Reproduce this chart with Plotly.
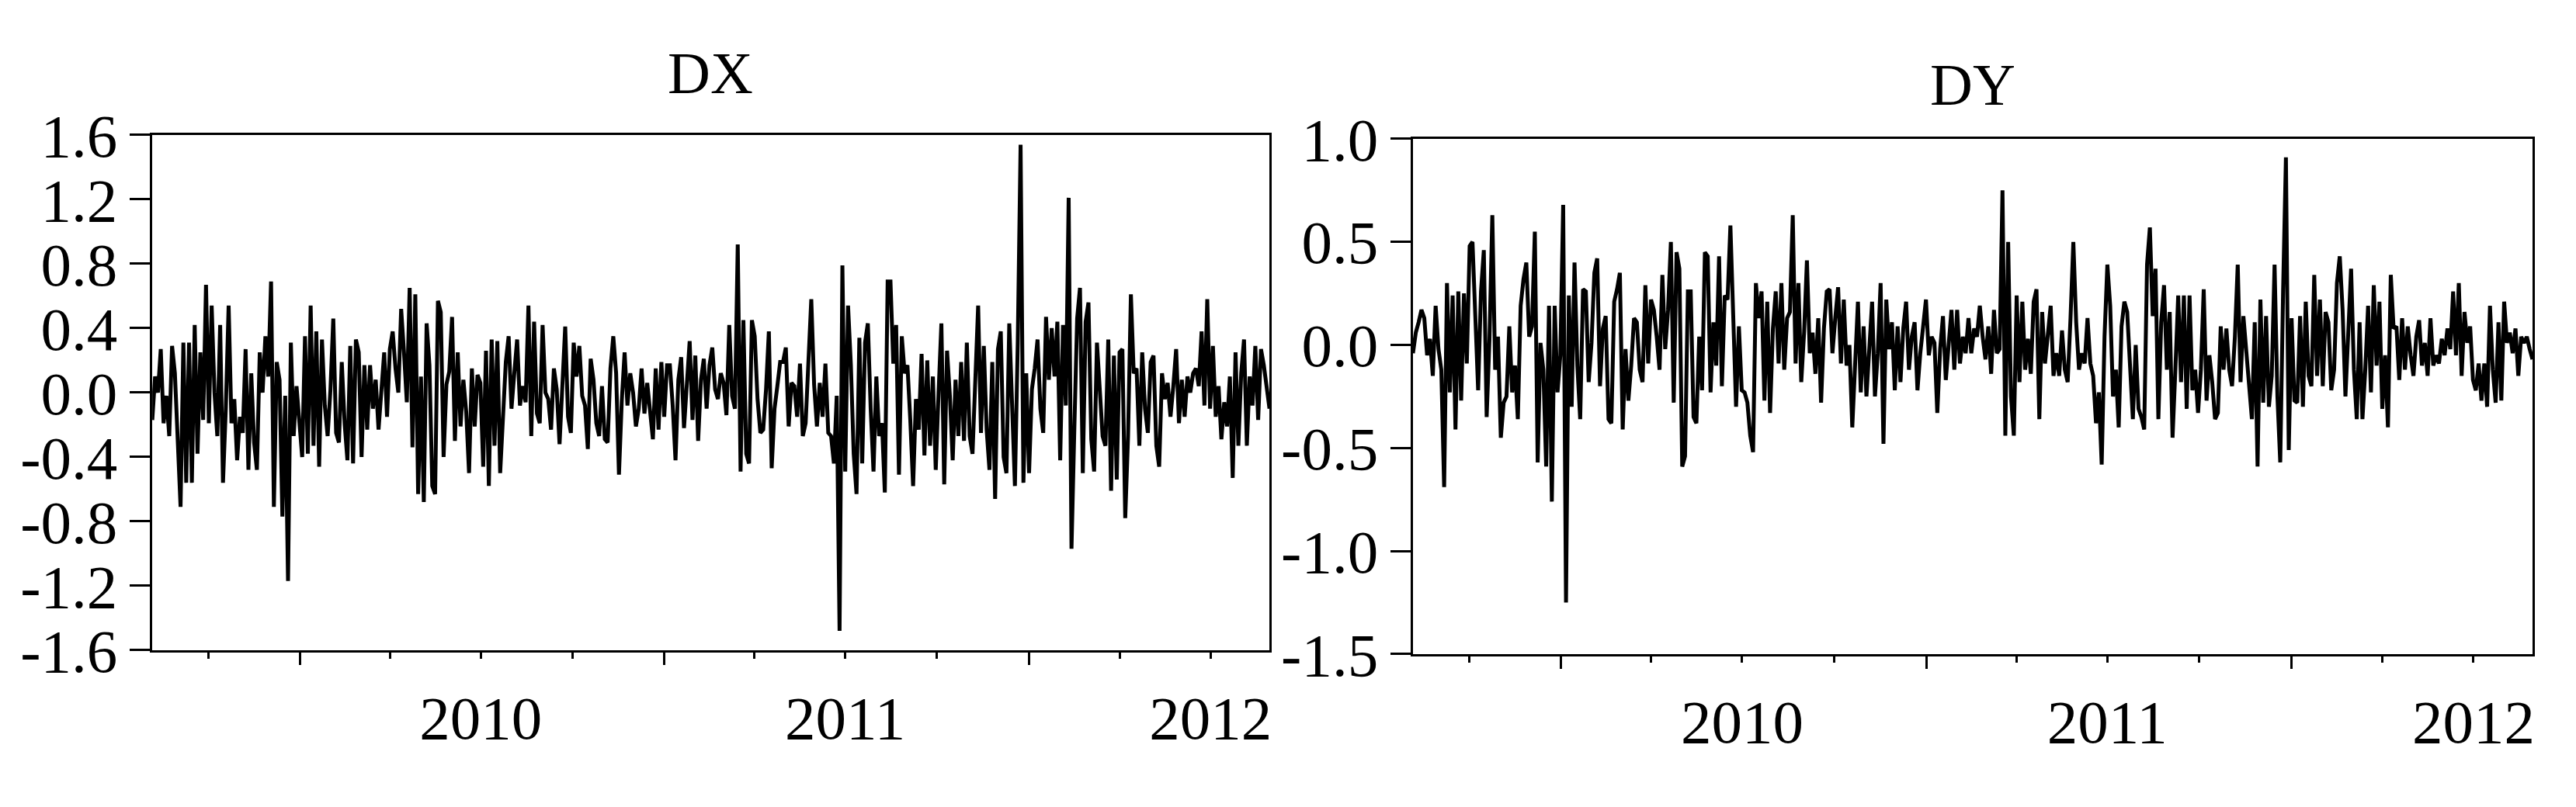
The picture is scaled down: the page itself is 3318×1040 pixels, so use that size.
import pandas as pd
import plotly.graph_objects as go

# Values (Aug 2009 - Aug 2012), left to right
dx_values = [
    -0.17, 0.10, 0.00, 0.27, -0.19, -0.02, -0.27, 0.29, 0.12, -0.28,
    -0.71, 0.31, -0.56, 0.31, -0.56, 0.42, -0.38, 0.25, -0.17, 0.67,
    -0.19, 0.54, 0.00, -0.27, 0.42, -0.56, -0.10, 0.54, -0.19, -0.04,
    -0.42, -0.15, -0.25, 0.27, -0.48, 0.12, -0.31, -0.48, 0.25, 0.00,
    0.35, 0.10, 0.69, -0.71, 0.19, 0.08, -0.77, -0.02, -1.17, 0.31,
    -0.27, 0.04, -0.15, -0.40, 0.35, -0.38, 0.54, -0.33, 0.38, -0.46,
    0.33, -0.08, -0.27, 0.02, 0.46, -0.25, -0.31, 0.19, -0.19, -0.42,
    0.29, -0.44, 0.33, 0.25, -0.40, 0.17, -0.23, 0.17, -0.10, 0.08,
    -0.23, 0.05, 0.25, -0.15, 0.27, 0.38, 0.15, 0.00, 0.52, 0.25,
    -0.06, 0.65, -0.34, 0.61, -0.63, 0.10, -0.68, 0.43, 0.17, -0.58,
    -0.63, 0.57, 0.50, -0.40, 0.05, 0.13, 0.47, -0.30, 0.25, -0.21,
    0.08, -0.12, -0.50, 0.15, -0.21, 0.11, 0.06, -0.46, 0.26, -0.58,
    0.33, -0.33, 0.32, -0.50, -0.10, 0.19, 0.35, -0.10, 0.12, 0.33,
    -0.08, 0.04, -0.06, 0.54, -0.27, 0.44, -0.13, -0.19, 0.42, 0.00,
    -0.04, -0.23, 0.15, 0.02, -0.32, 0.08, 0.41, -0.15, -0.25, 0.31,
    0.10, 0.29, -0.02, -0.08, -0.35, 0.21, 0.08, -0.19, -0.27, 0.04,
    -0.29, -0.31, 0.15, 0.35, 0.12, -0.51, -0.05, 0.25, -0.08, 0.12,
    0.00, -0.21, -0.10, 0.15, -0.13, 0.06, -0.15, -0.29, 0.15, -0.23,
    0.19, -0.15, 0.17, 0.17, -0.08, -0.42, 0.08, 0.22, -0.22, 0.08,
    0.32, -0.17, 0.23, -0.30, 0.08, 0.21, -0.10, 0.17, 0.28, 0.02,
    -0.04, 0.12, 0.06, -0.14, 0.42, -0.02, -0.10, 0.92, -0.49, 0.45,
    -0.38, -0.44, 0.45, 0.35, -0.04, -0.25, -0.23, 0.02, 0.38, -0.47,
    -0.10, 0.04, 0.19, 0.19, 0.28, -0.21, 0.06, 0.04, -0.15, 0.18,
    -0.27, -0.19, 0.21, 0.58, 0.05, -0.21, 0.06, -0.15, 0.18, -0.25,
    -0.27, -0.44, -0.02, -1.48, 0.79, -0.49, 0.54, 0.17, -0.38, -0.63,
    0.34, -0.44, 0.31, 0.43, -0.10, -0.49, 0.10, -0.27, -0.19, -0.62,
    0.69, 0.69, 0.18, 0.42, -0.51, 0.35, 0.12, 0.17, -0.17, -0.58,
    -0.04, -0.23, 0.24, -0.39, 0.20, -0.33, 0.10, -0.48, 0.00, 0.43,
    -0.57, 0.26, -0.02, -0.42, 0.08, -0.27, 0.19, -0.30, 0.31, -0.27,
    -0.38, 0.17, 0.54, -0.25, 0.29, -0.23, -0.48, 0.19, -0.66, 0.27,
    0.38, -0.40, -0.50, 0.43, -0.13, -0.58, 0.31, 1.54, -0.56, 0.12,
    -0.50, 0.02, 0.15, 0.33, -0.10, -0.25, 0.47, 0.08, 0.40, 0.10,
    0.44, -0.42, 0.42, -0.08, 1.21, -0.97, -0.23, 0.46, 0.65, -0.50,
    0.44, 0.56, -0.29, -0.49, 0.31, 0.06, -0.27, -0.33, 0.33, -0.61,
    0.23, -0.54, 0.25, 0.27, -0.78, -0.27, 0.61, 0.12, 0.15, -0.33,
    0.25, -0.10, -0.25, 0.19, 0.23, -0.33, -0.46, 0.12, -0.04, 0.06,
    -0.15, 0.04, 0.27, -0.19, 0.08, -0.15, 0.10, 0.00, 0.12, 0.15,
    0.04, 0.38, -0.08, 0.58, -0.10, 0.29, -0.15, 0.04, -0.29, -0.06,
    -0.21, 0.10, -0.53, 0.25, -0.33, 0.12, 0.33, -0.33, 0.10, -0.08,
    0.29, -0.17, 0.27, 0.17, 0.04, -0.10,
]

dy_values = [
    -0.04, 0.06, 0.11, 0.17, 0.13, -0.05, 0.03, -0.15, 0.19, -0.02,
    -0.12, -0.69, 0.30, -0.23, 0.24, -0.41, 0.26, -0.27, 0.25, -0.09,
    0.48, 0.50, 0.14, -0.22, 0.26, 0.46, -0.35, 0.03, 0.63, -0.12,
    0.04, -0.45, -0.28, -0.25, 0.09, -0.23, -0.10, -0.36, 0.19, 0.32,
    0.40, 0.04, 0.09, 0.55, -0.57, 0.01, -0.12, -0.59, 0.19, -0.76,
    0.19, -0.23, -0.05, 0.68, -1.25, 0.24, -0.30, 0.40, -0.10, -0.36,
    0.27, 0.26, -0.18, 0.01, 0.35, 0.42, -0.20, 0.08, 0.14, -0.36,
    -0.38, 0.21, 0.27, 0.35, -0.41, -0.02, -0.27, -0.10, 0.13, 0.11,
    -0.12, -0.18, 0.29, -0.09, 0.22, 0.17, 0.04, -0.12, 0.34, -0.02,
    0.17, 0.50, -0.28, 0.45, 0.37, -0.59, -0.54, 0.26,
    0.26, -0.35, -0.38, 0.04, -0.22, 0.45, 0.43, -0.23, 0.11, -0.10,
    0.43, -0.20, 0.24, 0.22, 0.58, 0.11, -0.30, 0.09, -0.22, -0.23,
    -0.28, -0.44, -0.52, 0.30, 0.13, 0.26, -0.27, 0.21, -0.33, 0.08,
    0.26, -0.09, 0.30, -0.12, 0.13, 0.16, 0.63, -0.09, 0.30, -0.18,
    0.06, 0.41, -0.04, 0.06, -0.14, 0.13, -0.28, 0.08, 0.26, 0.27,
    -0.04, 0.13, 0.28, -0.09, 0.22, -0.10, 0.00, -0.40, -0.12, 0.21,
    -0.23, 0.09, -0.25, -0.05, 0.21, -0.25, -0.04, 0.30, -0.48, 0.22,
    -0.02, 0.11, -0.22, 0.09, -0.18, 0.08, 0.21, -0.12, 0.04, 0.11,
    -0.22, -0.04, 0.08, 0.22, -0.05, 0.04, 0.01, -0.33, -0.02, 0.14,
    -0.17, -0.02, 0.17, -0.12, 0.17, -0.09, 0.04, -0.04, 0.13,
    -0.04, 0.08, 0.04, 0.19, 0.04, -0.07, 0.09, -0.14, 0.17, -0.04,
    -0.02, 0.75, -0.44, 0.50, -0.25, -0.44, 0.24, -0.18, 0.21, -0.12,
    0.03, -0.14, 0.21, 0.27, -0.36, 0.16, -0.09, 0.03, 0.19, -0.15,
    -0.04, -0.15, 0.07, -0.12, -0.18, 0.13, 0.50, 0.11, -0.12, -0.04,
    -0.09, 0.13, -0.09, -0.15, -0.38, -0.23, -0.58, 0.04, 0.39, 0.19,
    -0.25, -0.12, -0.40, 0.09, 0.21, 0.16, -0.12, -0.36, 0.00, -0.31,
    -0.35, -0.41, 0.39, 0.57, 0.14, 0.37, -0.36, 0.11, 0.29, -0.12,
    0.16, -0.45, -0.12, 0.24, -0.18, 0.24, -0.31, 0.24, -0.22, -0.12,
    -0.33, -0.12, 0.27, -0.27, -0.05, -0.18, -0.36, -0.33, 0.09, -0.12,
    0.08, -0.12, -0.20, 0.04, 0.39, -0.18, 0.14, -0.02, -0.18,
    -0.36, 0.11, -0.59, 0.22, -0.28, 0.14, -0.30, -0.15, 0.39, -0.25,
    -0.57, 0.26, 0.91, -0.51, 0.13, -0.27, -0.28, 0.14, -0.30, 0.21,
    -0.15, -0.20, 0.34, -0.15, 0.22, -0.20, 0.16, 0.11, -0.22, -0.12,
    0.30, 0.43, 0.17, -0.25, 0.11, 0.37, -0.12, -0.36, 0.11, -0.36,
    -0.12, 0.19, -0.23, 0.29, -0.10, 0.21, -0.31, -0.05, -0.40, 0.34,
    0.08, 0.09, -0.17, 0.13, -0.12, 0.09, -0.05, -0.15, 0.04, 0.12,
    -0.10, 0.01, -0.15, 0.13, -0.10, -0.05, -0.09, 0.03, -0.05, 0.08,
    -0.02, 0.26, -0.05, 0.30, -0.15, 0.16, 0.01, 0.09, -0.17, -0.22,
    -0.09, -0.27, -0.09, -0.30, 0.19, -0.12, -0.28, 0.11, -0.27, 0.21,
    0.01, 0.06, -0.04, 0.08, -0.15, 0.04, 0.01, 0.04, -0.02, -0.07,
]

start_date = "2009-08-06"
end_date = "2012-08-29"

dx_ticks = [-1.6, -1.2, -0.8, -0.4, 0.0, 0.4, 0.8, 1.2, 1.6]
dx_tick_text = ["-1.6", "-1.2", "-0.8", "-0.4", "0.0", "0.4", "0.8", "1.2", "1.6"]
dy_ticks = [-1.5, -1.0, -0.5, 0.0, 0.5, 1.0]
dy_tick_text = ["-1.5", "-1.0", "-0.5", "0.0", "0.5", "1.0"]

# quarter ticks (year label sits on the July tick), long ticks at year start
quarter_ticks = ["2009-10-01", "2010-04-01", "2010-07-01", "2010-10-01",
                 "2011-04-01", "2011-07-01", "2011-10-01", "2012-04-01", "2012-07-01"]
quarter_text = ["", "", "2010", "", "", "2011", "", "", "2012"]
year_starts = ["2010-01-01", "2011-01-01", "2012-01-01"]

dx_dates = pd.date_range(start_date, end_date, periods=len(dx_values))
dy_dates = pd.date_range(start_date, end_date, periods=len(dy_values))

font_name = "Liberation Serif"

fig = go.Figure()
fig.add_trace(go.Scatter(x=dx_dates, y=dx_values, mode="lines",
                         line=dict(color="black", width=5), xaxis="x", yaxis="y"))
fig.add_trace(go.Scatter(x=dy_dates, y=dy_values, mode="lines",
                         line=dict(color="black", width=5), xaxis="x2", yaxis="y2"))

frame = dict(showline=True, mirror=True, linecolor="black", linewidth=3,
             showgrid=False, zeroline=False, ticks="outside", automargin=False,
             tickcolor="black", tickwidth=3,
             tickfont=dict(family=font_name, size=79, color="black"))

x_style = dict(frame, type="date", range=[start_date, end_date],
               tickmode="array", tickvals=quarter_ticks, ticktext=quarter_text,
               ticklen=8, ticklabelstandoff=8,
               minor=dict(tickmode="array", tickvals=year_starts, ticks="outside",
                          ticklen=16, tickwidth=3, tickcolor="black"))

fig.update_layout(
    width=3318, height=1040,
    margin=dict(l=0, r=0, t=0, b=0),
    paper_bgcolor="white", plot_bgcolor="white",
    showlegend=False,
    xaxis=dict(x_style, domain=[0.0567, 0.4904], anchor="y"),
    yaxis=dict(frame, domain=[0.2020, 0.8404], anchor="x", range=[-1.6, 1.6],
               tickmode="array", tickvals=dx_ticks, ticktext=dx_tick_text, ticklen=26),
    xaxis2=dict(x_style, domain=[0.5461, 0.9807], anchor="y2"),
    yaxis2=dict(frame, domain=[0.1972, 0.8356], anchor="x2", range=[-1.5, 1.0],
                tickmode="array", tickvals=dy_ticks, ticktext=dy_tick_text, ticklen=26),
    annotations=[
        dict(text="DX", x=0.2735, y=0.917, xref="paper", yref="paper",
             showarrow=False, xanchor="center", yanchor="middle",
             font=dict(family=font_name, size=76, color="black")),
        dict(text="DY", x=0.7634, y=0.903, xref="paper", yref="paper",
             showarrow=False, xanchor="center", yanchor="middle",
             font=dict(family=font_name, size=76, color="black")),
    ],
)

fig.write_html("out.html")
